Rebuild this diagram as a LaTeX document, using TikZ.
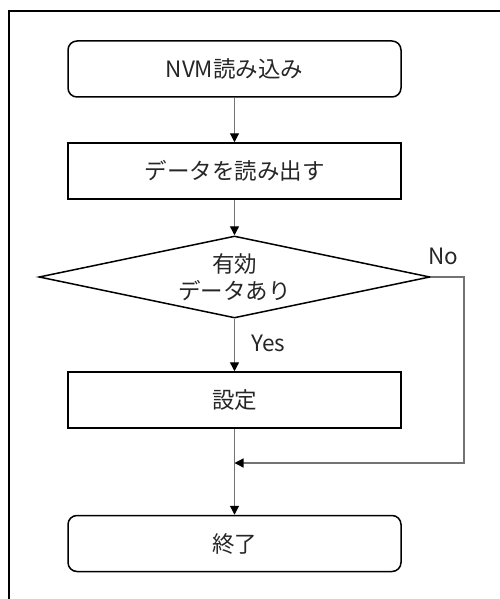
\documentclass[tikz,border=0pt]{standalone}
\usepackage{fontspec}
\setmainfont{Noto Sans CJK JP}
\usetikzlibrary{shapes.geometric,arrows.meta}
\begin{document}
\begin{tikzpicture}[x=1pt,y=-1pt,
  every node/.style={font=\fontsize{22.5}{27}\selectfont,text=black!85},
  proc/.style={draw=black,line width=1.5pt,rectangle,minimum width=333pt,minimum height=56pt,inner sep=0pt},
  term/.style={proc,rounded corners=9pt},
  dec/.style={draw=black,line width=1.5pt,diamond,aspect=4.7,inner sep=0pt,minimum width=391pt,minimum height=82pt,align=center},
  conn/.style={draw=gray!90!black,line width=1.3pt},
  arr/.style={conn,-{Triangle[length=9pt,width=9pt,black]}},
  lbl/.style={inner sep=0pt}]
\useasboundingbox (0,0) rectangle (499,599);
\draw[line width=2pt] (9,605) -- (9,11) -- (505,11);
\node[term] (start) at (234.5,69) {NVM読み込み};
\node[proc] (read) at (234.5,171) {データを読み出す};
\node[dec] (chk) at (234.5,277) {有効\\データあり};
\node[proc] (set) at (234.5,400) {設定};
\node[term] (end) at (234.5,543.5) {終了};
\coordinate (nc) at (464,463);
\coordinate (j) at (234.5,463);
\draw[arr] (start) -- (read);
\draw[arr] (read) -- (chk);
\draw[arr] (chk) -- (set);
\draw[arr] (set) -- (end);
\draw[arr] (chk.east) -| (nc) -- (j);
\node[lbl,anchor=west] (yes) at (251,343) {Yes};
\node[lbl,anchor=west] (no) at (428,256) {No};
\end{tikzpicture}
\end{document}
